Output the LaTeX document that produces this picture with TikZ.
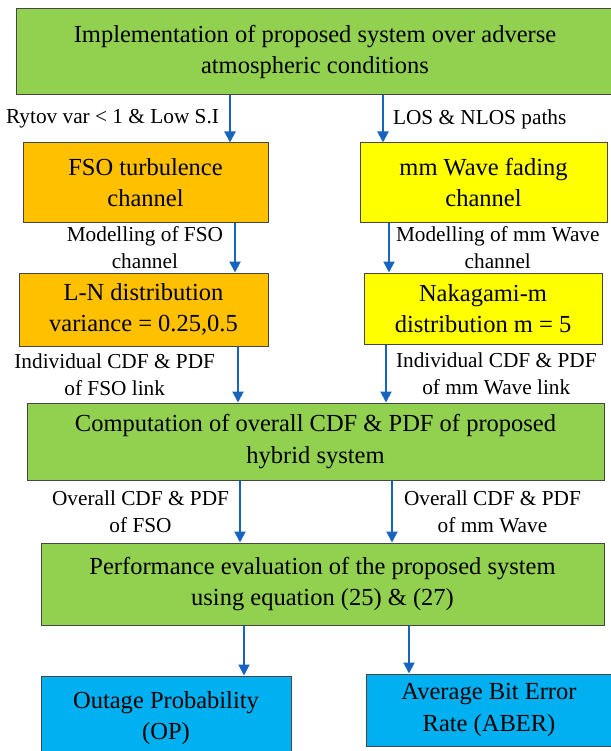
\documentclass[tikz,border=0pt]{standalone}
\usepackage{fontspec}
\setmainfont{Liberation Serif}
\usetikzlibrary{arrows.meta, positioning}
\definecolor{boxgreen}{RGB}{146,208,80}
\definecolor{boxorange}{RGB}{255,192,0}
\definecolor{boxyellow}{RGB}{255,255,0}
\definecolor{boxblue}{RGB}{0,176,240}
\definecolor{arrowblue}{RGB}{22,100,190}
\definecolor{edgegray}{RGB}{70,70,70}
\tikzset{
  block/.style={
    draw=edgegray, line width=1pt, align=center, inner sep=0pt,
    font=\fontsize{24.5}{31.5}\selectfont
  },
  flow/.style={draw=arrowblue, line width=2pt, -{Triangle[length=11pt, width=11pt]}},
  note/.style={align=center, inner sep=0pt, font=\fontsize{21.3}{27}\selectfont},
}

\begin{document}
\begin{tikzpicture}[x=1pt, y=-1pt]
  \useasboundingbox (0,0) rectangle (610,751);
  \node[block, fill=boxgreen, minimum width=598pt, minimum height=86pt] (impl) at (315,52)
    {Implementation of proposed system over adverse\\atmospheric conditions};
  \node[block, fill=boxorange, minimum width=245pt, minimum height=79pt] (fso) at (145.5,182.5)
    {FSO turbulence\\channel};
  \node[block, fill=boxyellow, minimum width=247pt, minimum height=79pt] (mmw) at (483.5,182.5)
    {mm Wave fading\\channel};
  \node[block, fill=boxorange, minimum width=249pt, minimum height=73pt] (ln) at (143.5,309.5)
    {L-N distribution\\variance = 0.25,0.5};
  \node[block, fill=boxyellow, minimum width=238pt, minimum height=71pt] (naka) at (483,308.5)
    {Nakagami-m\\distribution m = 5};
  \node[block, fill=boxgreen, minimum width=577pt, minimum height=77pt] (comp) at (315.5,441.5)
    {Computation of overall CDF \& PDF of proposed\\hybrid system};
  \node[block, fill=boxgreen, minimum width=563pt, minimum height=82pt] (perf) at (322.5,584)
    {Performance evaluation of the proposed system\\using equation (25) \& (27)};
  \node[block, fill=boxblue, minimum width=250pt, minimum height=84pt] (op) at (166,718)
    {Outage Probability\\(OP)};
  \node[block, fill=boxblue, minimum width=246pt, minimum height=72pt] (aber) at (489,710)
    {Average Bit Error\\Rate (ABER)};

  \coordinate (a1) at (230,0);
  \coordinate (a2) at (383,0);
  \coordinate (b1) at (235,0);
  \coordinate (b2) at (389,0);
  \coordinate (c1) at (238,0);
  \coordinate (c2) at (386,0);
  \coordinate (d1) at (240,0);
  \coordinate (d2) at (392,0);
  \coordinate (e1) at (244,0);
  \coordinate (e2) at (409,0);

  \draw[flow] (impl.south -| a1) -- (fso.north -| a1)
    node[midway, left=10pt, note] {Rytov var < 1 \& Low S.I};
  \draw[flow] (impl.south -| a2) -- (mmw.north -| a2)
    node[midway, right=9pt, note] {LOS \& NLOS paths};
  \draw[flow] (fso.south -| b1) -- (ln.north -| b1)
    node[midway, left=11pt, note] {Modelling of FSO\\channel};
  \draw[flow] (mmw.south -| b2) -- (naka.north -| b2)
    node[midway, right=6pt, note] {Modelling of mm Wave\\channel};
  \draw[flow] (ln.south -| c1) -- (comp.north -| c1)
    node[midway, left=22pt, note] {Individual CDF \& PDF\\of FSO link};
  \draw[flow] (naka.south -| c2) -- (comp.north -| c2)
    node[midway, right=9pt, note] {Individual CDF \& PDF\\of mm Wave link};
  \draw[flow] (comp.south -| d1) -- (perf.north -| d1)
    node[midway, left=10pt, note] {Overall CDF \& PDF\\of FSO};
  \draw[flow] (comp.south -| d2) -- (perf.north -| d2)
    node[midway, right=11pt, note] {Overall CDF \& PDF\\of mm Wave};
  \draw[flow] (perf.south -| e1) -- (op.north -| e1);
  \draw[flow] (perf.south -| e2) -- (aber.north -| e2);
\end{tikzpicture}
\end{document}
